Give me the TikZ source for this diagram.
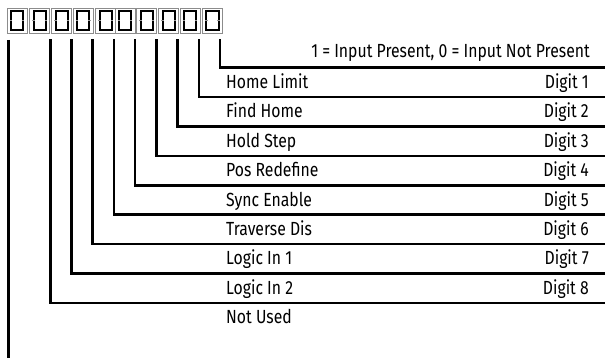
\documentclass[tikz,border=0pt]{standalone}
\usepackage{fontspec}
\setmainfont[FakeStretch=0.83]{Fira Sans}
\begin{document}
\begin{tikzpicture}[x=1pt,y=-1pt,
  digitbox/.style={draw=black!45,line width=0.9pt,minimum width=20pt,minimum height=25pt,inner sep=0pt},
  lead/.style={line width=2.6pt},
  lbl/.style={anchor=base west,inner sep=0pt,font=\fontsize{19}{19}\selectfont},
  dig/.style={anchor=base east,inner sep=0pt,font=\fontsize{19}{19}\selectfont}]
\fill[white] (0,0) rectangle (605,358);
\useasboundingbox (0,0) rectangle (605,358);
% digit boxes
\foreach \i/\cx in {1/17,2/39.7,3/61.7,4/83.2,5/105.8,6/125,7/146.7,8/168.8,9/190,10/212.5}{
  \node[digitbox] (d\i) at (\cx,20.8) {};
  \draw[line width=2pt] ([xshift=4.3pt,yshift=-3.3pt]d\i.north west) rectangle ([xshift=-4.3pt,yshift=3.3pt]d\i.south east);
  \draw[black!40,line width=0.8pt] ([xshift=4.3pt]d\i.west) ++(-1.3,0) -- ++(2.6,0);
  \draw[black!40,line width=0.8pt] ([xshift=-4.3pt]d\i.east) ++(-1.3,0) -- ++(2.6,0);
}
% leads
\foreach \i/\x in {1/8.5,2/50.7,3/71.7,4/92.7,5/114,6/135,7/156.7,8/177.7,9/199,10/220}{
  \coordinate (t\i) at (\x,40);
}
\coordinate (b1) at (8.5,358);
\draw[lead] (t1) -- (b1);
\foreach \i/\y in {10/67.5,9/97,8/126.5,7/156,6/185.5,5/214.5,4/244,3/273.5,2/303}{
  \coordinate (r\i) at (605,\y);
  \draw[lead,line cap=rect] (t\i) |- (r\i);
}
% header
\node[dig] (hdr) at (590,57.5) {1 = Input Present, 0 = Input Not Present};
% labels
\foreach \n/\t/\y/\d in {1/Home Limit/88.5/Digit 1,2/Find Home/118/Digit 2,3/Hold Step/147.5/Digit 3,4/Pos Redefine/177/Digit 4,5/Sync Enable/206.5/Digit 5,6/Traverse Dis/235.5/Digit 6,7/Logic In 1/265/Digit 7,8/Logic In 2/294.5/Digit 8}{
  \node[lbl] (l\n) at (226,\y) {\t};
  \node[dig] (g\n) at (589,\y) {\d};
}
\node[lbl] (l9) at (226,323.5) {Not Used};
\end{tikzpicture}
\end{document}
